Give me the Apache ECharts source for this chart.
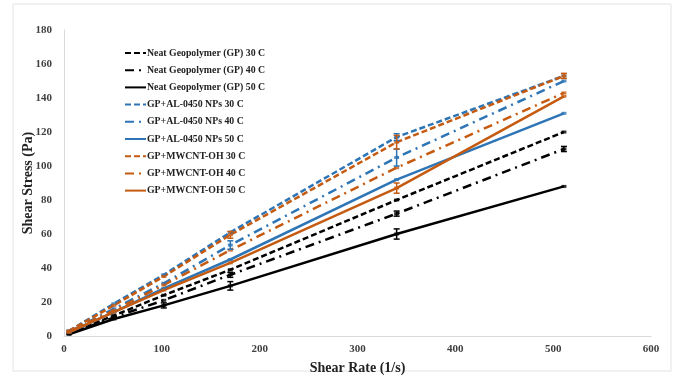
<!DOCTYPE html>
<html><head><meta charset="utf-8">
<script src="https://cdn.jsdelivr.net/npm/echarts@6/dist/echarts.min.js"></script>
<style>html,body{margin:0;padding:0;background:#fff}#c{width:676px;height:376px}</style>
</head><body><div id="c"></div>
<script>
const shearRate = [5.1, 51, 102, 170, 340, 511];
const seriesNames = [
  'Neat Geopolymer (GP) 30 C','Neat Geopolymer (GP) 40 C','Neat Geopolymer (GP) 50 C',
  'GP+AL-0450 NPs 30 C','GP+AL-0450 NPs 40 C','GP+AL-0450 NPs 50 C',
  'GP+MWCNT-OH 30 C','GP+MWCNT-OH 40 C','GP+MWCNT-OH 50 C'];
const gp30 = [1.5, 12, 24, 39, 80, 120];
const gp40 = [1.3, 11, 21, 36, 72, 110];
const gp50 = [1.0, 10, 18, 29.5, 60, 88];
const al30 = [3, 19, 36, 61, 117, 153];
const al40 = [2.5, 16, 31, 53.5, 105, 150];
const al50 = [2.2, 14, 28, 45, 92, 131];
const mw30 = [3, 18, 35, 59.5, 114, 153];
const mw40 = [2.5, 15, 30, 50.5, 99, 143];
const mw50 = [2.2, 14, 27, 43, 87, 141];
// error bars: [shear rate, stress, half-range]
const errGP = [[102,18,1.5],[170,29.5,2.5],[340,60,3],[170,36,1.5],[340,72,1.5],[511,110,1.5]];
const errAL = [[170,53.5,2.5],[340,105,5],[340,117,2]];
const errMW = [[340,114,4],[340,87,3],[170,59.5,2],[511,153,1.5]];
const xTicks = [0,100,200,300,400,500,600];
const yTicks = [0,20,40,60,80,100,120,140,160,180];

const BLACK='#000000', BLUE='#2e75b6', ORANGE='#c55a11';
const allData=[gp30,gp40,gp50,al30,al40,al50,mw30,mw40,mw50];
const colors=[BLACK,BLACK,BLACK,BLUE,BLUE,BLUE,ORANGE,ORANGE,ORANGE];
const dashes=[[6,3],[9,5,2,5],'solid'];
const series = allData.map((d,i)=>({
  name: seriesNames[i], type:'line', data: shearRate.map((x,j)=>[x,d[j]]),
  symbol:'none',
  itemStyle:{color:colors[i]},
  lineStyle:{color:colors[i], width: 2.5, type: dashes[i%3]},
  z: 3
}));
allData.forEach((d,i)=>{
  series.push({type:'scatter', data: shearRate.map((x,j)=>[x,d[j]]), symbol:'rect', symbolSize:[5,3],
    itemStyle:{color:colors[i]}, z:3, silent:true});
});
function errSeries(arr,color){
  return {type:'custom', data:arr, z:4, silent:true, renderItem:(p,api)=>{
    const x=api.value(0), y=api.value(1), e=api.value(2);
    const a=api.coord([x,y+e]), b=api.coord([x,y-e]);
    return {type:'group', children:[
      {type:'line', shape:{x1:a[0],y1:a[1],x2:b[0],y2:b[1]}, style:{stroke:color,lineWidth:1.5}},
      {type:'line', shape:{x1:a[0]-3,y1:a[1],x2:a[0]+3,y2:a[1]}, style:{stroke:color,lineWidth:1.5}},
      {type:'line', shape:{x1:b[0]-3,y1:b[1],x2:b[0]+3,y2:b[1]}, style:{stroke:color,lineWidth:1.5}}
    ]};
  }};
}
series.push(errSeries(errGP,BLACK), errSeries(errAL,BLUE), errSeries(errMW,ORANGE));

const font = '"Liberation Serif","Times New Roman",serif';
const chart = echarts.init(document.getElementById('c'), null, {renderer:'canvas'});
chart.setOption({
  animation:false,
  backgroundColor:'#fff',
  graphic:[{type:'rect', shape:{x:13,y:4,width:658,height:367}, style:{fill:'none',stroke:'#e3e3e3',lineWidth:1}, silent:true}],
  grid:{left:64, right:25, top:30, bottom:40, outerBoundsMode:'none', containLabel:false},
  legend:{
    data: seriesNames, orient:'vertical', left:119, top:43, itemGap:7.2, itemWidth:21, itemHeight:12,
    itemStyle:{opacity:0},
    textStyle:{fontFamily:font, fontWeight:'bold', fontSize:9.8, color:'#222', padding:[0,0,0,-4]}
  },
  xAxis:{type:'value', min:0, max:600, interval:100,
    axisLine:{show:true, lineStyle:{color:'#d9d9d9', width:1}}, axisTick:{show:false}, splitLine:{show:false},
    axisLabel:{fontFamily:font, fontWeight:'bold', fontSize:11, color:'#404040', margin:8,
      formatter:v=>xTicks.includes(v)?String(v):''},
    name:'Shear Rate (1/s)', nameLocation:'middle', nameGap:25, nameMoveOverlap:false,
    nameTextStyle:{fontFamily:font, fontWeight:'bold', fontSize:14, color:'#222'}},
  yAxis:{type:'value', min:0, max:180, interval:20,
    axisLine:{show:true, lineStyle:{color:'#d9d9d9', width:1}}, axisTick:{show:false}, splitLine:{show:false},
    axisLabel:{fontFamily:font, fontWeight:'bold', fontSize:11, color:'#404040', margin:12,
      formatter:v=>yTicks.includes(v)?String(v):''},
    name:'Shear Stress (Pa)', nameLocation:'middle', nameGap:29, nameRotate:90, nameMoveOverlap:false,
    nameTextStyle:{fontFamily:font, fontWeight:'bold', fontSize:14, color:'#222'}},
  series: series
});
</script></body></html>
